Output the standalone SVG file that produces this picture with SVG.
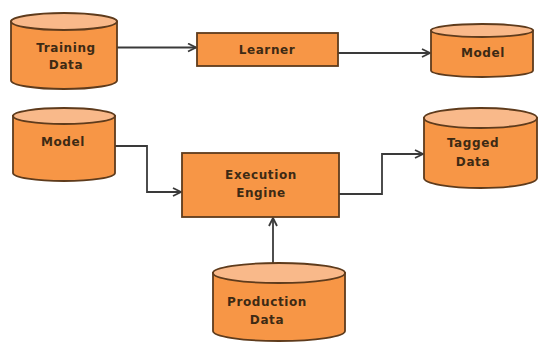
<svg xmlns="http://www.w3.org/2000/svg" width="539" height="343" viewBox="0 0 539 343">
<style>
.body{fill:#F79646;stroke:#5e3b1c;stroke-width:1.8}
.top{fill:#F9B98A;stroke:#5e3b1c;stroke-width:1.8}
.box{fill:#F79646;stroke:#5e3b1c;stroke-width:1.8}
.lbl{font-family:"DejaVu Sans",Verdana,sans-serif;font-weight:bold;font-size:12px;letter-spacing:0.6px;fill:#3d2a14;text-anchor:middle}
.con{fill:none;stroke:#3a3a3a;stroke-width:1.8}
</style>
<defs>
<marker id="arr" viewBox="0 0 10 10" refX="9" refY="5" markerWidth="10" markerHeight="10" markerUnits="userSpaceOnUse" orient="auto">
<path d="M1,1 L9,5 L1,9" fill="none" stroke="#3a3a3a" stroke-width="1.8"/>
</marker>
</defs>
<rect width="539" height="343" fill="#ffffff"/>
<g id="connectors">
<path class="con" d="M117,47.5 H196" marker-end="url(#arr)"/>
<path class="con" d="M338,53 H430" marker-end="url(#arr)"/>
<path class="con" d="M115,146 H147 V192 H181" marker-end="url(#arr)"/>
<path class="con" d="M339,194 H382 V154 H423" marker-end="url(#arr)"/>
<path class="con" d="M273,263 V218" marker-end="url(#arr)"/>
</g>
<g id="training-data">
<path class="body" d="M11,21.5 V80.5 A53,8.5 0 0 0 117,80.5 V21.5 Z"/>
<ellipse class="top" cx="64" cy="21.5" rx="53" ry="8.5"/>
<text class="lbl" x="66" y="52">Training</text>
<text class="lbl" x="66" y="69">Data</text>
</g>
<g id="learner">
<rect class="box" x="197" y="33" width="141" height="33"/>
<text class="lbl" x="267" y="54">Learner</text>
</g>
<g id="model-out">
<path class="body" d="M431,30.5 V70.5 A51,6.5 0 0 0 533,70.5 V30.5 Z"/>
<ellipse class="top" cx="482" cy="30.5" rx="51" ry="6.5"/>
<text class="lbl" x="483" y="57">Model</text>
</g>
<g id="model-in">
<path class="body" d="M13,116 V173 A51,8 0 0 0 115,173 V116 Z"/>
<ellipse class="top" cx="64" cy="116" rx="51" ry="8"/>
<text class="lbl" x="63" y="146">Model</text>
</g>
<g id="execution-engine">
<rect class="box" x="182" y="153" width="157" height="64"/>
<text class="lbl" x="261" y="179">Execution</text>
<text class="lbl" x="261" y="197">Engine</text>
</g>
<g id="tagged-data">
<path class="body" d="M424,118 V178 A56.5,10 0 0 0 537,178 V118 Z"/>
<ellipse class="top" cx="480.5" cy="118" rx="56.5" ry="10"/>
<text class="lbl" x="473" y="147">Tagged</text>
<text class="lbl" x="473" y="166">Data</text>
</g>
<g id="production-data">
<path class="body" d="M213,273 V331 A66,10 0 0 0 345,331 V273 Z"/>
<ellipse class="top" cx="279" cy="273" rx="66" ry="10"/>
<text class="lbl" x="267" y="306">Production</text>
<text class="lbl" x="267" y="324">Data</text>
</g>
</svg>
